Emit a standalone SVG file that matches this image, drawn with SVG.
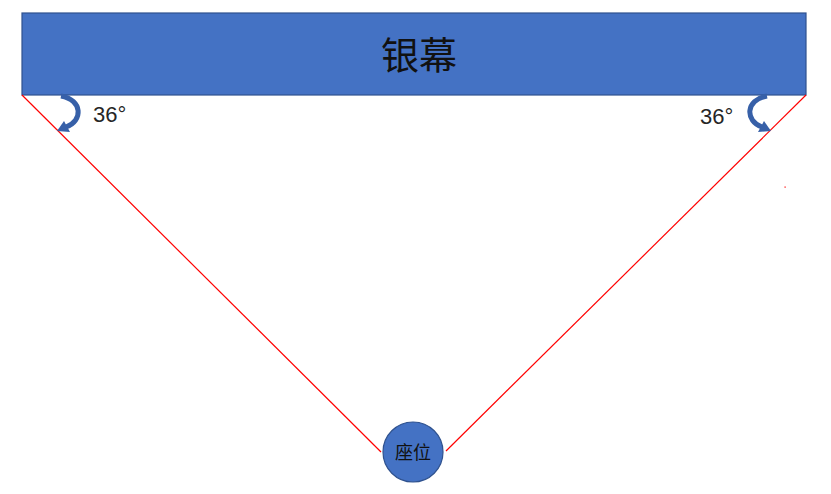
<svg xmlns="http://www.w3.org/2000/svg" width="831" height="494" viewBox="0 0 831 494">
<style>
.blue{fill:#4472C4;stroke:#2F528F;stroke-width:1.2}
.ray{stroke:#FF0000;stroke-width:1.2;fill:none}
.arc{stroke:#3760A8;stroke-width:5;fill:none;stroke-linecap:butt}
.head{fill:#3760A8}
.lbl{font-family:"Liberation Sans","Noto Sans CJK SC",sans-serif;fill:#262626}
.cjk{font-family:"Noto Sans CJK SC",sans-serif;fill:#111;text-anchor:middle}
</style>
<rect width="831" height="494" fill="#fff"/>
<g id="screen">
<rect class="blue" x="22" y="13" width="784" height="82"/>
<text class="cjk" x="419" y="69" font-size="38">银幕</text>
</g>
<g id="connectors">
<line class="ray" x1="22" y1="95" x2="381" y2="452"/>
<line class="ray" x1="806" y1="95" x2="446" y2="451"/>
<rect x="784.5" y="186.5" width="1.2" height="1.2" fill="#FF0000"/>
</g>
<g id="angle-left">
<path class="arc" d="M61 96 C83 100 83 121 66 127"/>
<polygon class="head" points="57,131 64,121 70,132"/>
<text class="lbl" x="93" y="122" font-size="22">36°</text>
</g>
<g id="angle-right">
<g transform="translate(828,0) scale(-1,1)">
<path class="arc" d="M61 96 C83 100 83 121 66 127"/>
<polygon class="head" points="57,131 64,121 70,132"/>
</g>
<text class="lbl" x="700" y="124" font-size="22">36°</text>
</g>
<g id="seat">
<circle class="blue" cx="413" cy="452" r="30"/>
<text class="cjk" x="413" y="459" font-size="18">座位</text>
</g>
</svg>
